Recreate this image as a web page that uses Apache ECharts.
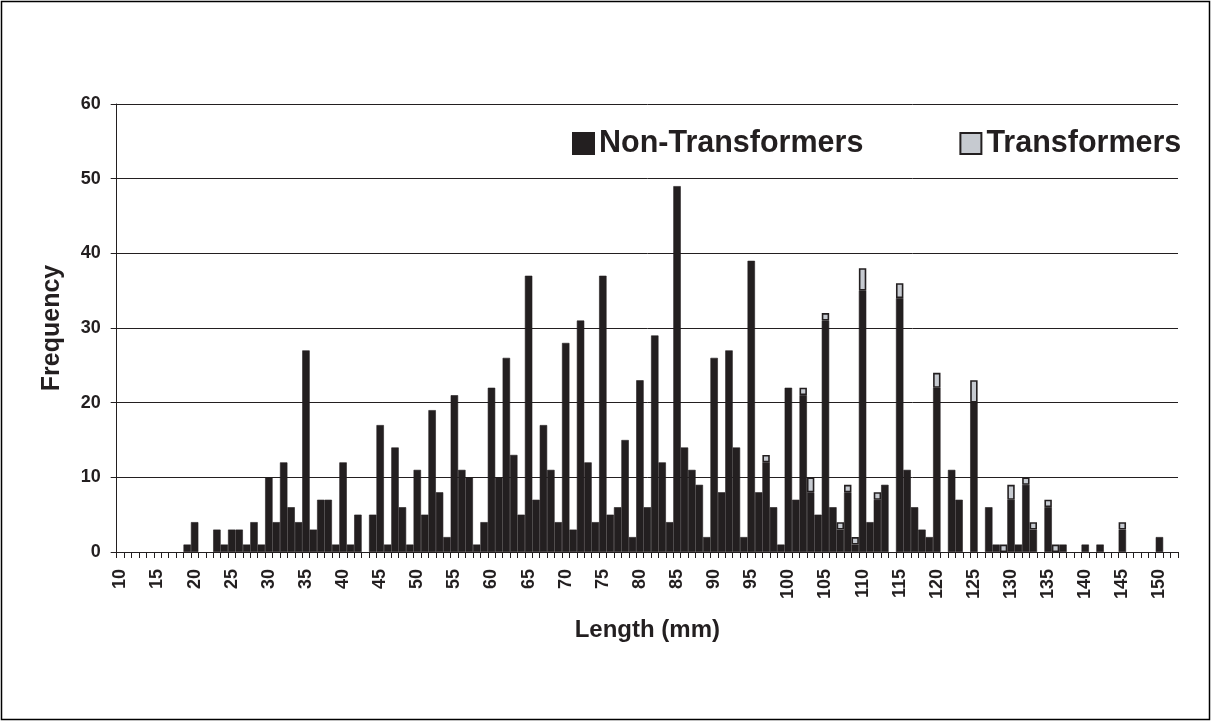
<!DOCTYPE html>
<html>
<head>
<meta charset="utf-8">
<script src="https://cdn.jsdelivr.net/npm/echarts@6/dist/echarts.min.js"></script>
<style>
  html, body { margin: 0; padding: 0; background: #fff; }
  #main { width: 1212px; height: 722px; }
</style>
</head>
<body>
<div id="main"></div>
<script>
// length classes, 10 mm .. 152 mm
var lengths = [];
for (var v = 10; v <= 152; v++) lengths.push(String(v));

// frequency of non-transformers per length (10..152)
var nonTransformers = [
  0, 0, 0, 0, 0, 0, 0, 0, 0, 1,      // 10-19
  4, 0, 0, 3, 1, 3, 3, 1, 4, 1,      // 20-29
  10, 4, 12, 6, 4, 27, 3, 7, 7, 1,   // 30-39
  12, 1, 5, 0, 5, 17, 1, 14, 6, 1,   // 40-49
  11, 5, 19, 8, 2, 21, 11, 10, 1, 4, // 50-59
  22, 10, 26, 13, 5, 37, 7, 17, 11, 4, // 60-69
  28, 3, 31, 12, 4, 37, 5, 6, 15, 2, // 70-79
  23, 6, 29, 12, 4, 49, 14, 11, 9, 2, // 80-89
  26, 8, 27, 14, 2, 39, 8, 12, 6, 1, // 90-99
  22, 7, 21, 8, 5, 31, 6, 3, 8, 1,   // 100-109
  35, 4, 7, 9, 0, 34, 11, 6, 3, 2,   // 110-119
  22, 0, 11, 7, 0, 20, 0, 6, 1, 0,   // 120-129
  7, 1, 9, 3, 0, 6, 0, 1, 0, 0,      // 130-139
  1, 0, 1, 0, 0, 3, 0, 0, 0, 0,      // 140-149
  2, 0, 0                            // 150-152
];

// frequency of transformers per length (10..152)
var transformers = [
  0, 0, 0, 0, 0, 0, 0, 0, 0, 0,
  0, 0, 0, 0, 0, 0, 0, 0, 0, 0,
  0, 0, 0, 0, 0, 0, 0, 0, 0, 0,
  0, 0, 0, 0, 0, 0, 0, 0, 0, 0,
  0, 0, 0, 0, 0, 0, 0, 0, 0, 0,
  0, 0, 0, 0, 0, 0, 0, 0, 0, 0,
  0, 0, 0, 0, 0, 0, 0, 0, 0, 0,
  0, 0, 0, 0, 0, 0, 0, 0, 0, 0,
  0, 0, 0, 0, 0, 0, 0, 1, 0, 0,      // 90-99
  0, 0, 1, 2, 0, 1, 0, 1, 1, 1,      // 100-109
  3, 0, 1, 0, 0, 2, 0, 0, 0, 0,      // 110-119
  2, 0, 0, 0, 0, 3, 0, 0, 0, 1,      // 120-129
  2, 0, 1, 1, 0, 1, 1, 0, 0, 0,      // 130-139
  0, 0, 0, 0, 0, 1, 0, 0, 0, 0,      // 140-149
  0, 0, 0
];

var yTicks = [0, 10, 20, 30, 40, 50, 60];

var ink = '#231f20';
var font = "'Liberation Sans', Arial, sans-serif";

function noZero(arr) {
  return arr.map(function (d) { return d === 0 ? '-' : d; });
}

var chart = echarts.init(document.getElementById('main'));
chart.setOption({
  animation: false,
  backgroundColor: '#fff',
  textStyle: { fontFamily: font, color: ink },
  graphic: [{
    type: 'rect',
    shape: { x: 1.5, y: 1.5, width: 1208, height: 718 },
    style: { fill: 'none', stroke: '#000', lineWidth: 1.5 },
    silent: true
  }],
  legend: {
    left: 567,
    top: 123,
    itemWidth: 21,
    itemHeight: 21,
    itemGap: 96,
    icon: 'rect',
    textStyle: { fontFamily: font, fontSize: 30.5, fontWeight: 'bold', color: ink, lineHeight: 30 },
    data: ['Non-Transformers', 'Transformers']
  },
  grid: { left: 116.7, right: 34, top: 104, bottom: 170, containLabel: false },
  xAxis: {
    type: 'category',
    data: lengths,
    boundaryGap: true,
    name: 'Length (mm)',
    nameLocation: 'middle',
    nameGap: 66,
    nameTextStyle: { fontFamily: font, fontSize: 24, fontWeight: 'bold', color: ink },
    axisLine: { lineStyle: { color: ink, width: 1 } },
    axisTick: { show: true, interval: 0, length: 6, lineStyle: { color: ink } },
    axisLabel: {
      interval: 4,
      rotate: 90,
      margin: 17,
      fontFamily: font,
      fontSize: 18,
      fontWeight: 'bold',
      color: ink
    },
    splitLine: { show: false }
  },
  yAxis: {
    type: 'value',
    min: yTicks[0],
    max: yTicks[yTicks.length - 1],
    interval: 10,
    name: 'Frequency',
    nameLocation: 'middle',
    nameGap: 52,
    nameRotate: 90,
    nameTextStyle: { fontFamily: font, fontSize: 25, fontWeight: 'bold', color: ink },
    axisLine: { show: true, lineStyle: { color: ink, width: 1 } },
    axisTick: { show: true, length: 6, lineStyle: { color: ink } },
    axisLabel: { margin: 16, fontFamily: font, fontSize: 18, fontWeight: 'bold', color: ink },
    splitLine: { show: true, lineStyle: { color: ink, width: 1 } }
  },
  series: [
    {
      name: 'Non-Transformers',
      type: 'bar',
      stack: 'all',
      barCategoryGap: '0%',
      data: noZero(nonTransformers),
      itemStyle: { color: ink, borderColor: ink, borderWidth: 0.6 }
    },
    {
      name: 'Transformers',
      type: 'bar',
      stack: 'all',
      barCategoryGap: '0%',
      data: noZero(transformers),
      itemStyle: { color: '#c6cad0', borderColor: ink, borderWidth: 1.6 }
    }
  ]
});
</script>
</body>
</html>
